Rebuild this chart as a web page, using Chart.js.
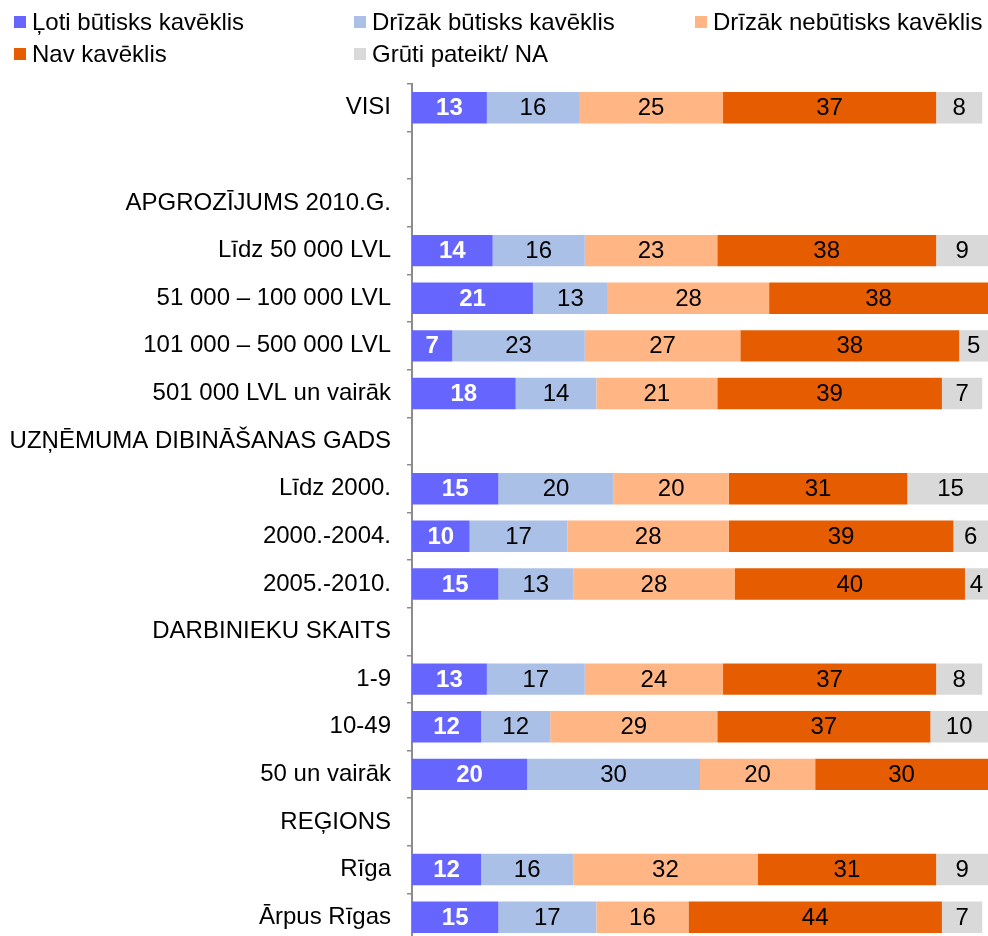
<!DOCTYPE html>
<html>
<head>
<meta charset="utf-8">
<script src="https://cdn.jsdelivr.net/npm/chart.js@4.4.1/dist/chart.umd.min.js"></script>
<style>
  html, body { margin: 0; padding: 0; background: #fff; overflow: hidden; }
  body { width: 988px; height: 936px; position: relative; font-family: "Liberation Sans", Arial, sans-serif; }
  #legend { position: absolute; left: 14px; top: 8px; display: grid; grid-template-columns: 340px 341px 300px; row-gap: 4px; z-index: 2; }
  .item { display: flex; align-items: center; font-size: 24px; line-height: 28px; color: #000; white-space: nowrap; }
  .box { width: 12px; height: 12px; margin-right: 6px; flex: none; }
  #chart { position: absolute; left: 0; top: 0; }
</style>
</head>
<body>
<div id="legend"></div>
<canvas id="chart" width="988" height="941"></canvas>
<script>
const CATEGORIES = [
  "VISI",
  "",
  "APGROZĪJUMS 2010.G.",
  "Līdz 50 000 LVL",
  "51 000 – 100 000 LVL",
  "101 000 – 500 000 LVL",
  "501 000 LVL un vairāk",
  "UZŅĒMUMA DIBINĀŠANAS GADS",
  "Līdz 2000.",
  "2000.-2004.",
  "2005.-2010.",
  "DARBINIEKU SKAITS",
  "1-9",
  "10-49",
  "50 un vairāk",
  "REĢIONS",
  "Rīga",
  "Ārpus Rīgas",
];

const SERIES_NAMES = [
  "Ļoti būtisks kavēklis",
  "Drīzāk būtisks kavēklis",
  "Drīzāk nebūtisks kavēklis",
  "Nav kavēklis",
  "Grūti pateikt/ NA",
];

const COLORS = ["#6666FF", "#AAC0E6", "#FFB584", "#E65C00", "#D9D9D9"];

// vērtības (%), null = virsraksta rinda
const LOTI = [13, null, null, 14, 21, 7, 18, null, 15, 10, 15, null, 13, 12, 20, null, 12, 15];
const DRIZAK_BUT = [16, null, null, 16, 13, 23, 14, null, 20, 17, 13, null, 17, 12, 30, null, 16, 17];
const DRIZAK_NEBUT = [25, null, null, 23, 28, 27, 21, null, 20, 28, 28, null, 24, 29, 20, null, 32, 16];
const NAV = [37, null, null, 38, 38, 38, 39, null, 31, 39, 40, null, 37, 37, 30, null, 31, 44];
const GRUTI = [8, null, null, 9, null, 5, 7, null, 15, 6, 4, null, 8, 10, null, null, 9, 7];

const VALUES = [LOTI, DRIZAK_BUT, DRIZAK_NEBUT, NAV, GRUTI];

// legenda
const legendEl = document.getElementById("legend");
SERIES_NAMES.forEach((name, i) => {
  const it = document.createElement("div");
  it.className = "item";
  it.innerHTML = '<span class="box" style="background:' + COLORS[i] + '"></span><span></span>';
  it.lastChild.textContent = name;
  legendEl.appendChild(it);
});

// vērtību uzraksti stabiņos
const barLabels = {
  id: "barLabels",
  afterDatasetsDraw(chart) {
    const ctx = chart.ctx;
    ctx.save();
    ctx.textAlign = "center";
    ctx.textBaseline = "middle";
    chart.data.datasets.forEach((ds, i) => {
      const meta = chart.getDatasetMeta(i);
      meta.data.forEach((bar, j) => {
        const v = ds.data[j];
        if (v === null || v === undefined) return;
        const c = bar.getCenterPoint();
        ctx.fillStyle = i === 0 ? "#fff" : "#000";
        ctx.font = (i === 0 ? "bold " : "") + "24px 'Liberation Sans', Arial, sans-serif";
        ctx.fillText(String(v), c.x, c.y + 1);
      });
    });
    ctx.restore();
  },
};

new Chart(document.getElementById("chart"), {
  type: "bar",
  data: {
    labels: CATEGORIES,
    datasets: VALUES.map((vals, i) => ({
      label: SERIES_NAMES[i],
      data: vals,
      backgroundColor: COLORS[i],
      borderWidth: 0,
      barPercentage: 0.66,
      categoryPercentage: 1,
    })),
  },
  options: {
    indexAxis: "y",
    responsive: false,
    animation: false,
    layout: { padding: { top: 84, right: 0, bottom: 0, left: 0 } },
    plugins: {
      legend: { display: false },
      tooltip: { enabled: false },
    },
    scales: {
      x: {
        stacked: true,
        display: false,
        min: 0,
        max: 100,
      },
      y: {
        stacked: true,
        grid: {
          offset: true,
          drawOnChartArea: false,
          drawTicks: true,
          tickLength: 5,
          color: "#8c8c8c",
          lineWidth: 1.5,
        },
        border: { display: true, color: "#8c8c8c", width: 2 },
        ticks: {
          color: "#000",
          padding: 16,
          font: { family: "'Liberation Sans', Arial, sans-serif", size: 24 },
        },
        afterFit: (scale) => {
          scale.width = 412;
          scale.paddingTop = 0;
          scale.paddingBottom = 0;
        },
      },
    },
  },
  plugins: [barLabels],
});
</script>
</body>
</html>
